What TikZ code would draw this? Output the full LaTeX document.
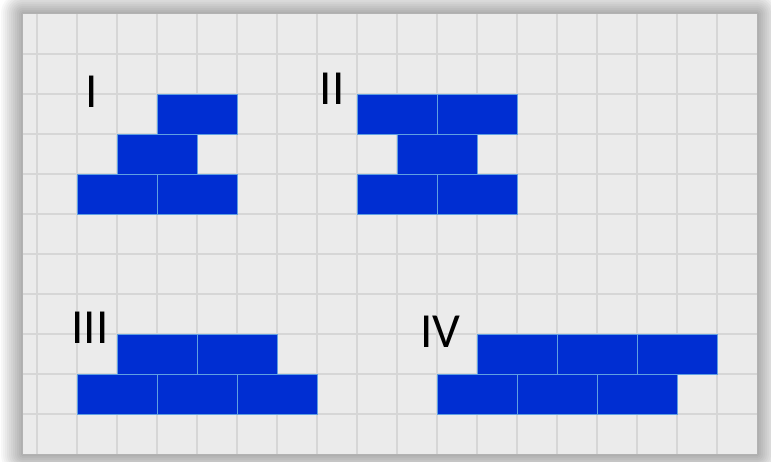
\documentclass[tikz,border=0pt]{standalone}
\usepackage{fontspec}
\setmainfont{Carlito}
\definecolor{panelbg}{RGB}{235,235,235}
\definecolor{gridc}{RGB}{214,214,214}
\definecolor{brickblue}{RGB}{0,46,210}
\definecolor{brickedge}{RGB}{95,160,225}
\begin{document}
\begin{tikzpicture}[x=1pt,y=-1pt,
  brick/.style={draw=brickedge, fill=brickblue, line width=0.9pt, minimum width=80pt, minimum height=40pt, inner sep=0pt, outer sep=0pt, anchor=north west},
  lbl/.style={font=\fontsize{49}{49}\selectfont, inner sep=0pt, anchor=base},
  gridline/.style={draw=gridc, line width=1.1pt}]
\useasboundingbox (0,0) rectangle (771,462);
\clip (0,0) rectangle (771,462);
\fill[white] (0,0) rectangle (771,462);
% soft shadow around the panel
\foreach \i in {12,11,...,1}{
  \pgfmathsetmacro{\off}{\i*2}
  \pgfmathsetmacro{\shade}{34-\i*2.8}
  \fill[black!\shade, rounded corners=\off pt] (23-\off,14-\off) rectangle (757+\off,454+\off);
}
\fill[black!30] (22,13) rectangle (758,455);
% panel and grid
\fill[panelbg] (23,14) rectangle (757,454);
\foreach \x in {37,77,...,717} \draw[gridline] (\x,14) -- (\x,454);
\foreach \y in {54,94,...,414} \draw[gridline] (23,\y) -- (757,\y);
% I
\node[brick] (i1) at (157,94) {};
\node[brick] (i2) at (117,134) {};
\node[brick] (i3) at (77,174) {};
\node[brick] (i4) at (157,174) {};
\node[lbl] (li) at (91.5,108) {I};
% II
\node[brick] (ii1) at (357,94) {};
\node[brick] (ii2) at (437,94) {};
\node[brick] (ii3) at (397,134) {};
\node[brick] (ii4) at (357,174) {};
\node[brick] (ii5) at (437,174) {};
\node[lbl] (lii) at (332,105) {II};
% III
\node[brick] (iii1) at (117,334) {};
\node[brick] (iii2) at (197,334) {};
\node[brick] (iii3) at (77,374) {};
\node[brick] (iii4) at (157,374) {};
\node[brick] (iii5) at (237,374) {};
\node[lbl] (liii) at (90,344) {III};
% IV
\node[brick] (iv1) at (477,334) {};
\node[brick] (iv2) at (557,334) {};
\node[brick] (iv3) at (637,334) {};
\node[brick] (iv4) at (437,374) {};
\node[brick] (iv5) at (517,374) {};
\node[brick] (iv6) at (597,374) {};
\node[lbl] (liv) at (440.5,348) {IV};
\end{tikzpicture}
\end{document}
